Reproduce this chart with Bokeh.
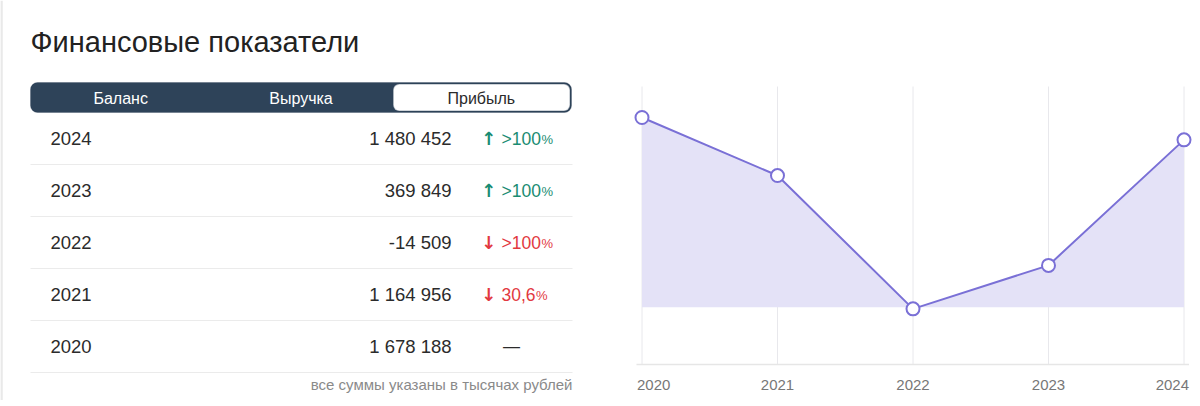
from bokeh.plotting import figure
from bokeh.layouts import row
from bokeh.models import Range1d, BoxAnnotation, ColumnDataSource
from bokeh.core.properties import value
from bokeh.embed import file_html
from bokeh.resources import INLINE

# ---------------- data ----------------
title_text = "Финансовые показатели"
tabs = ["Баланс", "Выручка", "Прибыль"]
active_tab = "Прибыль"
years = [2020, 2021, 2022, 2023, 2024]
profit = [1678188, 1164956, -14509, 369849, 1480452]
change_dir = ["none", "down", "down", "up", "up"]
change_text = ["—", "30,6", ">100", ">100", ">100"]
note = "все суммы указаны в тысячах рублей"

FONT = value("Liberation Sans")
DARK = "#2e4359"
TEXT = "#2b2b2b"
GREEN = "#1a8c72"
RED = "#e2393f"
PURPLE = "#7a70d6"
FILL = "#e4e2f7"

H = 400
LW = 600
RW = 596

# ---------------- left: table ----------------
left = figure(width=LW, height=H, x_range=Range1d(0, LW), y_range=Range1d(H, 0),
              x_axis_type=None, y_axis_type=None, output_backend="svg",
              toolbar_location=None, min_border=0)
left.grid.visible = False
left.outline_line_color = None

# page edge (light border on the left)
left.segment(x0=[1], x1=[1], y0=[0], y1=[H], line_color="#e9e9e9", line_width=2.5)

left.text(x=[30], y=[41], text=[title_text], text_font=FONT, text_font_size="29px",
          text_baseline="middle", text_color="#222222")

# tab bar
bar_l, bar_r, bar_t, bar_b = 30, 571, 82, 112
left.add_layout(BoxAnnotation(left=bar_l, right=bar_r, top=bar_t, bottom=bar_b,
                              fill_color=DARK, fill_alpha=1, line_color=DARK,
                              line_width=1, border_radius=7, level="underlay"))
tab_w = (bar_r - bar_l) / len(tabs)
ai = tabs.index(active_tab)
left.add_layout(BoxAnnotation(left=bar_l + ai * tab_w + 2, right=bar_r - 1.5, top=bar_t + 1.5,
                              bottom=bar_b - 1.5, fill_color="white", fill_alpha=1,
                              line_color=DARK, line_width=1.5, border_radius=6,
                              level="underlay"))
tab_src = ColumnDataSource(dict(
    x=[bar_l + (i + 0.5) * tab_w for i in range(len(tabs))],
    y=[(bar_t + bar_b) / 2 + 0.5] * len(tabs),
    t=tabs,
    c=[TEXT if t == active_tab else "white" for t in tabs],
))
left.text(x="x", y="y", text="t", text_color="c", source=tab_src, text_font=FONT,
          text_font_size="16px", text_align="center", text_baseline="middle")

# rows (latest year first)
FS = 18.5
order = list(range(len(years)))[::-1]
row_y = [138 + 52 * k for k in range(len(order))]
yrs = [str(years[i]) for i in order]
vals = [f"{profit[i]:,}".replace(",", " ") for i in order]
dirs = [change_dir[i] for i in order]
pcts = [change_text[i] for i in order]

left.text(x=[50] * len(order), y=row_y, text=yrs, text_font=FONT, text_font_size=f"{FS}px",
          text_baseline="middle", text_color=TEXT)
left.text(x=[451] * len(order), y=row_y, text=vals, text_font=FONT, text_font_size=f"{FS}px",
          text_baseline="middle", text_align="right", text_color=TEXT)

# arrows + percent
PFS = 17.5
cw = {",": .278, ">": .584}
ax, ay, at, ac = [], [], [], []
px, py, pt, pc = [], [], [], []
sx, sy, sc = [], [], []
dx, dy = [], []
for yv, d, p in zip(row_y, dirs, pcts):
    if d == "none":
        dx.append(511); dy.append(yv)
        continue
    col = GREEN if d == "up" else RED
    ax.append(488); ay.append(yv - 0.5); at.append("↑" if d == "up" else "↓"); ac.append(col)
    px.append(501); py.append(yv); pt.append(p); pc.append(col)
    w = sum(cw.get(ch, .556) for ch in p) * PFS
    sx.append(501 + w + 0.5); sy.append(yv + 1); sc.append(col)

left.text(x=ax, y=ay, text=at, text_color=ac, text_font=value("DejaVu Sans"),
          text_font_size="18px", text_font_style="bold", text_align="center",
          text_baseline="middle")
left.text(x=px, y=py, text=pt, text_color=pc, text_font=FONT, text_font_size=f"{PFS}px",
          text_baseline="middle")
left.text(x=sx, y=sy, text=["%"] * len(sx), text_color=sc, text_font=FONT,
          text_font_size="13px", text_baseline="middle")
left.text(x=dx, y=dy, text=["—"] * len(dx), text_color=TEXT, text_font=FONT,
          text_font_size="17px", text_align="center", text_baseline="middle")

# separators
sep_y = [y + 26 for y in row_y]
left.segment(x0=[30] * len(sep_y), x1=[572] * len(sep_y), y0=sep_y, y1=sep_y,
             line_color="#ebebeb", line_width=1)

left.text(x=[572], y=[384], text=[note], text_font=FONT, text_font_size="15px",
          text_align="right", text_baseline="middle", text_color="#8a8a8a")

# ---------------- right: chart ----------------
# pixel layout of the chart inside its figure (figure starts at page x = LW)
X0_PX, PX_PER_YEAR = 41.5, 135.5
ZERO_PX, VAL_PER_PX = 306.7, 8847.0
GRID_TOP_PX, AXIS_PX = 86, 364

x_start = years[0] - X0_PX / PX_PER_YEAR
x_end = x_start + RW / PX_PER_YEAR
y_top = ZERO_PX * VAL_PER_PX
y_bot = -(H - ZERO_PX) * VAL_PER_PX
grid_top = (ZERO_PX - GRID_TOP_PX) * VAL_PER_PX
axis_y = -(AXIS_PX - ZERO_PX) * VAL_PER_PX

chart = figure(width=RW, height=H, x_range=Range1d(x_start, x_end),
               y_range=Range1d(y_bot, y_top), x_axis_type=None, y_axis_type=None,
               output_backend="svg", toolbar_location=None, min_border=0)
chart.grid.visible = False
chart.outline_line_color = None

chart.segment(x0=years, x1=years, y0=[axis_y] * len(years), y1=[grid_top] * len(years),
              line_color="#e8e8ec", line_width=1)
chart.varea(x=years, y1=[0] * len(years), y2=profit, fill_color=FILL, fill_alpha=1)
chart.segment(x0=[years[0] - 5.5 / PX_PER_YEAR], x1=[years[-1] + 5 / PX_PER_YEAR],
              y0=[axis_y], y1=[axis_y], line_color="#e6e6e6", line_width=1.5)
chart.line(years, profit, line_color=PURPLE, line_width=2)
chart.scatter(years, profit, size=13, fill_color="white", line_color=PURPLE, line_width=2)

aligns = ["left"] + ["center"] * (len(years) - 2) + ["right"]
offs = [-5 / PX_PER_YEAR] + [0] * (len(years) - 2) + [5 / PX_PER_YEAR]
lab_src = ColumnDataSource(dict(x=[y + o for y, o in zip(years, offs)],
                                y=[axis_y] * len(years),
                                t=[str(y) for y in years], a=aligns))
chart.text(x="x", y="y", text="t", text_align="a", source=lab_src, y_offset=20,
           text_font=FONT, text_font_size="15px", text_baseline="middle",
           text_color="#777777")

layout = row(left, chart)
open("out.html", "w").write(file_html(layout, INLINE))
